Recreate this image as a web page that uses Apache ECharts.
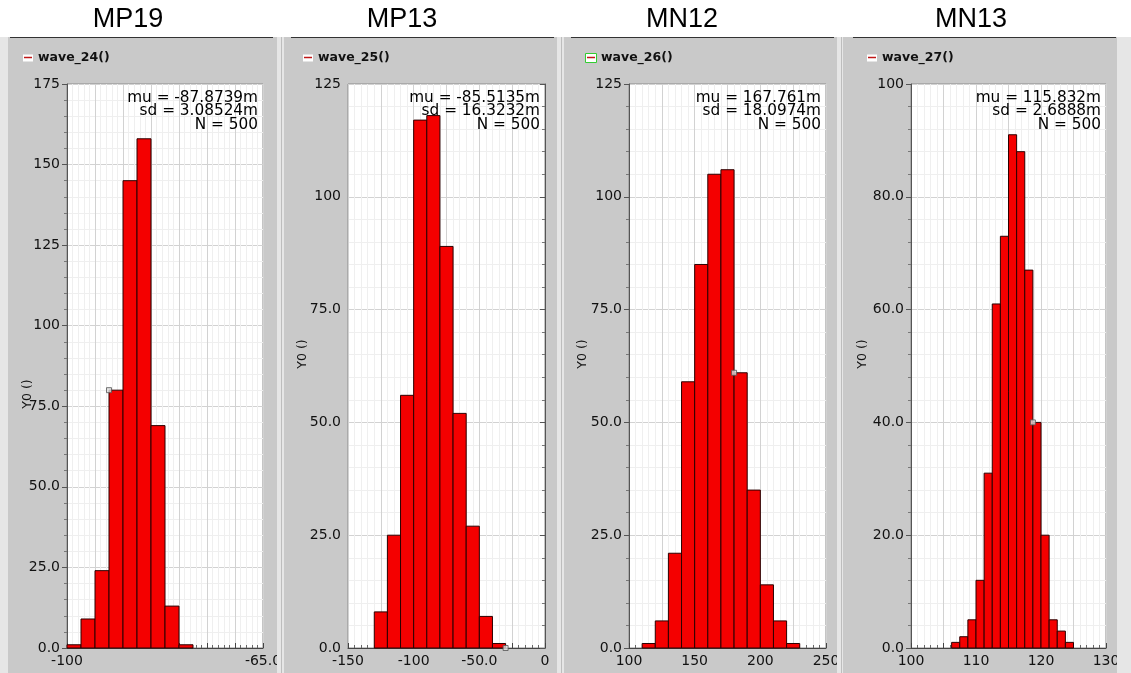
<!DOCTYPE html>
<html>
<head>
<meta charset="utf-8">
<script src="https://cdn.jsdelivr.net/npm/echarts@6/dist/echarts.min.js"></script>
<style>
  html, body { margin: 0; padding: 0; background: #fff; }
  #chart { width: 1131px; height: 673px; }
</style>
</head>
<body>
<div id="chart"></div>
<script>
// panel titles / legend names
const titles = ['MP19', 'MP13', 'MN12', 'MN13']
const waveNames = ['wave_24()', 'wave_25()', 'wave_26()', 'wave_27()']

// histogram bins (edges) and counts
const mp19Edges = [-100, -97.5, -95, -92.5, -90, -87.5, -85, -82.5, -80, -77.5]
const mp19Counts = [1, 9, 24, 80, 145, 158, 69, 13, 1]
const mp13Edges = [-130, -120, -110, -100, -90, -80, -70, -60, -50, -40, -30]
const mp13Counts = [8, 25, 56, 117, 118, 89, 52, 27, 7, 1]
const mn12Edges = [110, 120, 130, 140, 150, 160, 170, 180, 190, 200, 210, 220, 230]
const mn12Counts = [1, 6, 21, 59, 85, 105, 106, 61, 35, 14, 6, 1]
const mn13Edges = [106.25, 107.5, 108.75, 110, 111.25, 112.5, 113.75, 115, 116.25, 117.5, 118.75, 120, 121.25, 122.5, 123.75, 125]
const mn13Counts = [1, 2, 5, 12, 31, 61, 73, 91, 88, 67, 40, 20, 5, 3, 1]

// cursor markers shown on the plots
const cursorPoints = [[-92.5, 80], [-30, 0], [180, 61], [118.75, 40]]

// statistics boxes
const statTexts = [
  ['mu = -87.8739m', 'sd = 3.08524m', 'N = 500'],
  ['mu = -85.5135m', 'sd = 16.3232m', 'N = 500'],
  ['mu = 167.761m', 'sd = 18.0974m', 'N = 500'],
  ['mu = 115.832m', 'sd = 2.6888m', 'N = 500']
]

// axis ranges and tick labels
const xMins = [-100, -150, 100, 100]
const xMaxs = [-65, 0, 250, 130]
const xIntervals = [5, 25, 25, 5]
const yMaxs = [175, 125, 125, 100]
const yIntervals = [25, 25, 25, 20]
const mp19XLabels = ['-100', '', '', '', '', '', '', '-65.0']
const mp13XLabels = ['-150', '', '-100', '', '-50.0', '', '0']
const mn12XLabels = ['100', '', '150', '', '200', '', '250']
const mn13XLabels = ['100', '', '110', '', '120', '', '130']
const y175Labels = ['0.0', '25.0', '50.0', '75.0', '100', '125', '150', '175']
const y125Labels = ['0.0', '25.0', '50.0', '75.0', '100', '125']
const y100Labels = ['0.0', '20.0', '40.0', '60.0', '80.0', '100']

const edgesList = [mp19Edges, mp13Edges, mn12Edges, mn13Edges]
const countsList = [mp19Counts, mp13Counts, mn12Counts, mn13Counts]
const xLabelsList = [mp19XLabels, mp13XLabels, mn12XLabels, mn13XLabels]
const yLabelsList = [y175Labels, y125Labels, y125Labels, y100Labels]

// layout
const grids = [
  { left: 67, top: 84, width: 196, height: 564 },
  { left: 348, top: 84, width: 197, height: 564 },
  { left: 629, top: 84, width: 197, height: 564 },
  { left: 911, top: 84, width: 195, height: 564 }
]
const titleCenters = [128, 402, 682, 971]
const yNamePos = [[28, 394], [303, 354], [583, 354], [863, 354]]
const panelTopLines = [[10, 273], [291, 554], [571, 834], [853, 1116]]
const strips = [[0, 8], [277, 284], [557, 564], [837, 843], [1117, 1131]]
const legendLefts = [23, 303, 586, 867]

const font = 'DejaVu Sans'
const barFill = '#f40000'

function binData(edges, counts) {
  return counts.map((c, i) => [edges[i], edges[i + 1], c])
}

function renderBin(params, api) {
  const p0 = api.coord([api.value(0), api.value(2)])
  const p1 = api.coord([api.value(1), 0])
  return {
    type: 'rect',
    shape: { x: p0[0], y: p0[1], width: p1[0] - p0[0], height: p1[1] - p0[1] },
    style: { fill: barFill, stroke: '#2b0000', lineWidth: 1 }
  }
}

const option = {
  backgroundColor: '#c9c9c9',
  animation: false,
  grid: grids.map(g => Object.assign({
    show: true,
    backgroundColor: '#fff',
    borderColor: '#8a8a8a',
    borderWidth: 1
  }, g)),
  legend: waveNames.map((name, i) => ({
    data: [name],
    left: legendLefts[i] + 1,
    top: 51,
    padding: 0,
    icon: 'rect',
    itemWidth: 8,
    itemHeight: 1.5,
    itemStyle: { color: '#c01818' },
    textStyle: { fontFamily: font, fontSize: 12.5, fontWeight: 'bold', color: '#111', padding: [0, 0, 0, 1] },
    selectedMode: false
  })),
  xAxis: grids.map((g, i) => ({
    type: 'value',
    gridIndex: i,
    min: xMins[i],
    max: xMaxs[i],
    interval: xIntervals[i],
    axisLine: { show: true, lineStyle: { color: '#444' } },
    axisTick: { show: true, inside: true, length: 5, lineStyle: { color: '#444' } },
    minorTick: { show: true, splitNumber: 5, length: 3, lineStyle: { color: '#666' } },
    splitLine: { show: true, lineStyle: { color: '#d2d2d2' } },
    minorSplitLine: { show: true, lineStyle: { color: '#efefef' } },
    axisLabel: {
      fontFamily: font, fontSize: 14, color: '#111', margin: 6,
      formatter: (v, idx) => xLabelsList[i][idx] || ''
    }
  })),
  yAxis: grids.map((g, i) => ({
    type: 'value',
    gridIndex: i,
    min: 0,
    max: yMaxs[i],
    interval: yIntervals[i],
    axisLine: { show: true, lineStyle: { color: '#555' } },
    axisTick: { show: true, length: 5, lineStyle: { color: '#555' } },
    minorTick: { show: true, splitNumber: 5, length: 3, lineStyle: { color: '#777' } },
    splitLine: { show: true, lineStyle: { color: '#d2d2d2' } },
    minorSplitLine: { show: true, lineStyle: { color: '#efefef' } },
    axisLabel: {
      fontFamily: font, fontSize: 14, color: '#111', margin: 7,
      formatter: (v, idx) => yLabelsList[i][idx] || ''
    }
  })),
  series: [].concat(
    waveNames.map((name, i) => ({
      name: name,
      type: 'custom',
      xAxisIndex: i,
      yAxisIndex: i,
      itemStyle: { color: barFill },
      renderItem: renderBin,
      encode: { x: [0, 1], y: 2 },
      data: binData(edgesList[i], countsList[i])
    })),
    cursorPoints.map((pt, i) => ({
      name: 'cursor' + i,
      type: 'scatter',
      xAxisIndex: i,
      yAxisIndex: i,
      symbol: 'rect',
      symbolSize: 5,
      z: 5,
      itemStyle: { color: '#dddddd', borderColor: '#555', borderWidth: 1 },
      data: [pt]
    }))
  ),
  graphic: [].concat(
    [{ type: 'rect', z: 100, shape: { x: 0, y: 0, width: 1131, height: 37 }, style: { fill: '#fff' } }],
    strips.map(s => ({
      type: 'rect', z: 100,
      shape: { x: s[0], y: 37, width: s[1] - s[0], height: 636 },
      style: { fill: '#e6e6e6' }
    })),
    strips.slice(1, 4).map(s => ({
      type: 'line', z: 101,
      shape: { x1: s[0] + 4.5, y1: 37, x2: s[0] + 4.5, y2: 673 },
      style: { stroke: '#bdbdbd', lineWidth: 1 }
    })),
    panelTopLines.map(l => ({
      type: 'line', z: 101,
      shape: { x1: l[0], y1: 37.5, x2: l[1], y2: 37.5 },
      style: { stroke: '#333', lineWidth: 1 }
    })),
    // white boxes behind the legend line icons
    legendLefts.map((x, i) => ({
      type: 'rect', z: 1,
      shape: i === 2 ? { x: x - 0.5, y: 53.5, width: 11, height: 9 } : { x: x, y: 54.5, width: 10, height: 7 },
      style: { fill: '#fff', stroke: i === 2 ? '#33cc33' : null, lineWidth: 1 }
    })),
    titles.map((t, i) => ({
      type: 'text', z: 102,
      style: {
        text: t, x: titleCenters[i], y: 20,
        align: 'center', verticalAlign: 'middle',
        fontFamily: 'Liberation Sans', fontSize: 27, fill: '#000'
      }
    })),
    statTexts.map((lines, i) => ({
      type: 'text', z: 102,
      style: {
        text: lines.join('\n'),
        x: grids[i].left + grids[i].width - 5, y: 91,
        align: 'right', verticalAlign: 'top',
        fontFamily: font, fontSize: 15.3, lineHeight: 13.5, fill: '#000'
      }
    })),
    yNamePos.map(p => ({
      type: 'text', z: 102,
      x: p[0], y: p[1], rotation: Math.PI / 2,
      style: {
        text: 'Y0 ()', x: 0, y: 0,
        align: 'center', verticalAlign: 'middle',
        fontFamily: font, fontSize: 12.5, fill: '#111'
      }
    }))
  )
}

const chart = echarts.init(document.getElementById('chart'))
chart.setOption(option)
</script>
</body>
</html>
